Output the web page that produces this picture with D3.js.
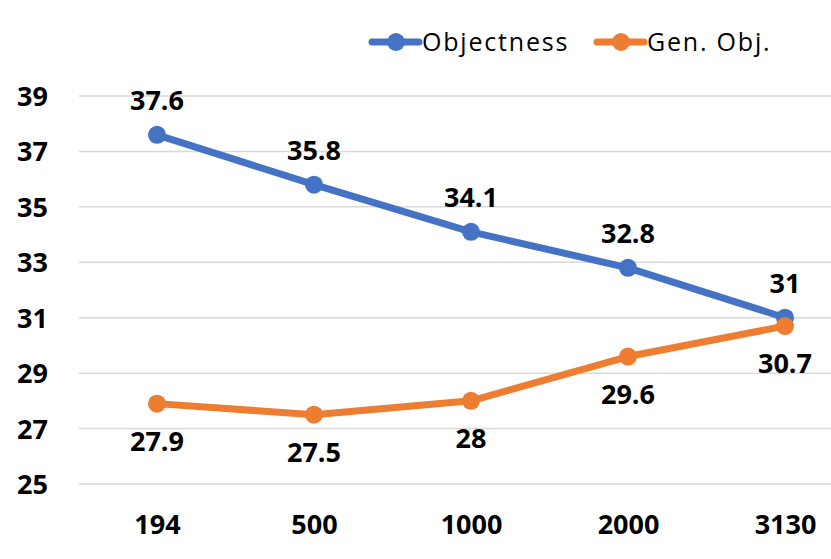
<!DOCTYPE html>
<html><head><meta charset="utf-8">
<script src="https://cdn.jsdelivr.net/npm/d3@7"></script>
<style>body{margin:0;background:#fff}</style>
</head><body>
<svg id="c" width="831" height="559"></svg>
<script>
const categories = ["194","500","1000","2000","3130"];
const objectness = [37.6,35.8,34.1,32.8,31];
const genObj = [27.9,27.5,28,29.6,30.7];
const yTicks = [25,27,29,31,33,35,37,39];
const seriesNames = ["Objectness","Gen. Obj."];

const svg = d3.select("#c");
const font = "Open Sans, Noto Sans, sans-serif";
const fs = 27;
const x = d3.scalePoint().domain(categories).range([157,785]);
const y = d3.scaleLinear().domain([25,39]).range([484,96]);
const colors = ["#4472C4","#ED7D31"];

// grid
svg.append("g").selectAll("line").data(yTicks).join("line")
  .attr("x1",79).attr("x2",831).attr("y1",d=>y(d)).attr("y2",d=>y(d))
  .attr("stroke","#d9d9d9").attr("stroke-width",1.5);

// y axis labels
const yAxis = svg.append("g").attr("transform","translate(48,0)")
  .call(d3.axisLeft(y).tickValues(yTicks).tickSize(0).tickPadding(0));
yAxis.select(".domain").remove();
yAxis.selectAll("text").attr("font-family",font).attr("font-weight","bold")
  .attr("font-size",fs).attr("fill","#000").attr("dy","0.35em");

// x axis labels
const xAxis = svg.append("g").attr("transform","translate(0,525)")
  .call(d3.axisBottom(x).tickSize(0).tickPadding(0));
xAxis.select(".domain").remove();
xAxis.selectAll("text").attr("font-family",font).attr("font-weight","bold")
  .attr("font-size",fs).attr("fill","#000").attr("dy","0.35em");

const line = d3.line().x((d,i)=>x(categories[i])).y(d=>y(d));
const series = [objectness, genObj];
series.forEach((vals,si)=>{
  const g = svg.append("g");
  g.append("path").datum(vals).attr("d",line).attr("fill","none")
    .attr("stroke",colors[si]).attr("stroke-width",7).attr("stroke-linejoin","round");
  g.selectAll("circle").data(vals).join("circle")
    .attr("cx",(d,i)=>x(categories[i])).attr("cy",d=>y(d)).attr("r",9)
    .attr("fill",colors[si]);
  g.selectAll("text").data(vals).join("text")
    .attr("x",(d,i)=>x(categories[i])).attr("y",d=>y(d) + (si===0 ? -34 : 38))
    .attr("dy","0.35em").attr("text-anchor","middle")
    .attr("font-family",font).attr("font-weight","bold").attr("font-size",fs)
    .attr("fill","#000").text(d=>d);
});

// legend
const legX = [372,597];
seriesNames.forEach((n,i)=>{
  const g = svg.append("g").attr("transform",`translate(${legX[i]},42)`);
  g.append("line").attr("x1",0).attr("x2",47).attr("stroke",colors[i]).attr("stroke-width",7).attr("stroke-linecap","round");
  g.append("circle").attr("cx",24).attr("r",9).attr("fill",colors[i]);
  g.append("text").attr("x",50).attr("dy","0.35em").attr("font-family",font)
    .attr("font-size",25).attr("letter-spacing",1.8).attr("fill","#000").text(n);
});
</script>
</body></html>
